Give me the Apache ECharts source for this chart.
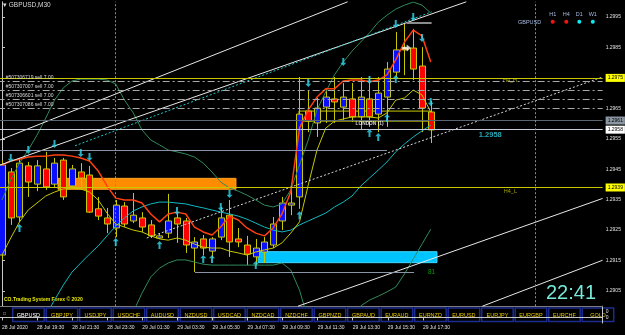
<!DOCTYPE html>
<html><head><meta charset="utf-8">
<script src="https://cdn.jsdelivr.net/npm/echarts@6/dist/echarts.min.js"></script>
<style>html,body{margin:0;padding:0;background:#000;overflow:hidden}#c{width:625px;height:335px}</style>
</head><body><div id="c"></div>
<script>
// ---------------- DATA ----------------
const tickLabels = ['28 Jul 2020','28 Jul 19:30','28 Jul 21:30','28 Jul 23:30','29 Jul 01:30','29 Jul 03:30','29 Jul 05:30','29 Jul 07:30','29 Jul 09:30','29 Jul 11:30','29 Jul 13:30','29 Jul 15:30','29 Jul 17:30'];
const priceTicks = [1.2905,1.2915,1.2925,1.2935,1.2945,1.2955,1.2965,1.2975,1.2985,1.2995];
const opens  = [1.29168,1.29441,1.29293,1.29461,1.29401,1.29451,1.29401,1.29480,1.29395,1.29441,1.29431,1.29320,1.29290,1.29257,1.29329,1.29280,1.29290,1.29267,1.29224,1.29240,1.29290,1.29280,1.29191,1.29221,1.29181,1.29227,1.29299,1.29221,1.29201,1.29162,1.29178,1.29201,1.29280,1.29332,1.29359,1.29641,1.29602,1.29654,1.29681,1.29654,1.29681,1.29622,1.29681,1.29631,1.29687,1.29769,1.29848,1.29848,1.29789,1.29638];
const highs  = [1.29480,1.29454,1.29487,1.29474,1.29480,1.29507,1.29487,1.29487,1.29464,1.29470,1.29461,1.29359,1.29323,1.29349,1.29342,1.29372,1.29309,1.29283,1.29240,1.29369,1.29306,1.29290,1.29227,1.29234,1.29227,1.29326,1.29349,1.29257,1.29231,1.29221,1.29227,1.29293,1.29359,1.29405,1.29753,1.29710,1.29684,1.29717,1.29753,1.29733,1.29733,1.29753,1.29753,1.29753,1.29802,1.29901,1.29930,1.29911,1.29851,1.29674];
const lows   = [1.29152,1.29267,1.29277,1.29359,1.29378,1.29382,1.29388,1.29349,1.29388,1.29382,1.29306,1.29283,1.29240,1.29227,1.29260,1.29273,1.29244,1.29224,1.29221,1.29224,1.29208,1.29175,1.29112,1.29168,1.29158,1.29217,1.29162,1.29194,1.29135,1.29135,1.29142,1.29191,1.29250,1.29299,1.29320,1.29572,1.29556,1.29602,1.29602,1.29612,1.29605,1.29579,1.29589,1.29572,1.29589,1.29753,1.29759,1.29743,1.29572,1.29536];
const closes = [1.29464,1.29290,1.29470,1.29408,1.29461,1.29392,1.29470,1.29359,1.29451,1.29421,1.29309,1.29296,1.29270,1.29332,1.29270,1.29299,1.29260,1.29231,1.29231,1.29280,1.29270,1.29201,1.29211,1.29191,1.29221,1.29290,1.29211,1.29211,1.29171,1.29191,1.29211,1.29270,1.29339,1.29339,1.29631,1.29608,1.29651,1.29687,1.29671,1.29687,1.29622,1.29687,1.29622,1.29700,1.29779,1.29842,1.29842,1.29779,1.29651,1.29579];

const maRed = [1.29464,1.29477,1.29483,1.29490,1.29493,1.29493,1.29497,1.29497,1.29493,1.29487,1.29477,1.29444,1.29395,1.29355,1.29349,1.29349,1.29339,1.29303,1.29277,1.29303,1.29309,1.29303,1.29260,1.29244,1.29234,1.29260,1.29296,1.29283,1.29257,1.29240,1.29231,1.29257,1.29303,1.29375,1.29585,1.29645,1.29687,1.29714,1.29714,1.29740,1.29743,1.29743,1.29737,1.29743,1.29760,1.29809,1.29868,1.29907,1.29888,1.29802];
const maYellow = [1.29168,1.29224,1.29277,1.29316,1.29339,1.29362,1.29375,1.29385,1.29388,1.29385,1.29375,1.29349,1.29306,1.29270,1.29260,1.29250,1.29244,1.29231,1.29221,1.29217,1.29224,1.29217,1.29204,1.29194,1.29191,1.29191,1.29181,1.29175,1.29168,1.29178,1.29185,1.29191,1.29208,1.29240,1.29277,1.29398,1.29513,1.29585,1.29608,1.29615,1.29622,1.29622,1.29622,1.29618,1.29635,1.29677,1.29684,1.29710,1.29694,1.29638];
const maCyan = [null,null,null,null,null,1.28970,1.29020,1.29069,1.29112,1.29142,1.29171,1.29198,1.29231,1.29263,1.29290,1.29313,1.29326,1.29336,1.29342,1.29342,1.29339,1.29336,1.29329,1.29323,1.29316,1.29309,1.29303,1.29296,1.29286,1.29273,1.29260,1.29250,1.29244,1.29250,1.29267,1.29280,1.29293,1.29306,1.29326,1.29342,1.29362,1.29395,1.29421,1.29447,1.29474,1.29507,1.29533,1.29556,1.29576,1.29595];
const bandUpper = [1.29349,1.29415,1.29470,1.29513,1.29562,1.29618,1.29677,1.29717,1.29740,1.29746,1.29746,1.29746,1.29743,1.29730,1.29677,1.29635,1.29579,1.29546,1.29530,1.29513,1.29507,1.29500,1.29490,1.29470,1.29441,1.29408,1.29388,1.29378,1.29365,1.29349,1.29332,1.29326,1.29336,1.29382,1.29464,1.29546,1.29645,1.29704,1.29760,1.29802,1.29838,1.29868,1.29898,1.29933,1.29956,1.29976,1.29989,1.29999,1.29989,1.29963];
const bandLower = [null,null,null,null,null,null,null,null,null,null,null,null,null,null,1.28922,1.28981,1.29043,1.29096,1.29125,1.29142,1.29152,1.29152,1.29145,1.29138,1.29135,1.29135,1.29135,1.29135,1.29135,1.29135,1.29135,1.29135,1.29142,1.29119,1.29053,1.28955,1.28889,1.28873,1.28873,1.28905,1.28961,1.29001,1.29020,1.29033,1.29047,1.29063,1.29106,1.29155,1.29204,1.29253];

const downArrowBars = [1,3,6,9,10,20,25,26,35,39,42,45,47,48,49];
const downArrowPrices = [1.29487,1.29513,1.29533,1.29503,1.29490,1.29313,1.29326,1.29369,1.29733,1.29802,1.29743,1.29927,1.29950,1.29881,1.29671];
const upArrowBars = [2,13,18,23,24,29,34,42,43,44,45];
const upArrowPrices = [1.29257,1.29211,1.29201,1.29155,1.29155,1.29135,1.29299,1.29569,1.29556,1.29618,1.29746];

const orderLevels = [1.29740,1.29710,1.29680,1.29650];
const orderLabels = ['#507306719 sell 7.00','#507307007 sell 7.00','#507306601 sell 7.00','#507307086 sell 7.00'];
const h4High = 1.2975, h4Low = 1.2939, openLevel = 1.2961, bidLevel = 1.2958;
const xLeft = -0.5, xRight = 68.643;
// trend lines: [barIndex, price] endpoints
const whiteLines = [[[-0.5,1.29543],[39.5,1.3000]], [[-0.5,1.29461],[53.06,1.3000]], [[33.83,1.2900],[68.64,1.29354]], [[54.9,1.2900],[68.64,1.29151]]];
const dottedWhite = [[16.54,1.29224],[68.64,1.29753]];
const dottedCyan = [[8.34,1.29527],[49.1,1.29967]];
const graySegs = [[[-0.5,1.29511],[44,1.29511]], [[22.06,1.29112],[47.1,1.29112]]];
const highMark = [[46.25,1.29931],[49.1,1.29931]];
const orangeBox = [[6.4,1.29420],[26.74,1.29384]];
const cyanBox = [[29.26,1.29179],[49.71,1.29143]];
const londonBox = [[33.94,1.29641],[48.9,1.29608]];
const daySeparators = [13, 61];
const symbols = ['GBPUSD','GBPJPY','USDJPY','USDCHF','AUDUSD','NZDUSD','USDCAD','NZDCAD','NZDCHF','GBPNZD','GBPAUD','EURAUD','EURNZD','EURUSD','EURJPY','EURGBP','EURCHF','GOLD'];
const timeframes = ['H1','H4','D1','W1'];
const tfColors = ['#ff1010','#ff1010','#10e8f0','#10e8f0'];

// ---------------- BUILD ----------------
const slots = [];
for (let k = 0; k < 69; k++) {
  const m = 17*60+30 + 30*k, d = 28 + Math.floor(m/1440), hh = Math.floor((m%1440)/60), mm = m%60;
  slots.push(d + ' Jul ' + String(hh).padStart(2,'0') + ':' + String(mm).padStart(2,'0'));
}
const pairs = arr => arr.map((v,i)=> v==null?null:[i,v]).filter(Boolean);
const candleData = opens.map((o,i)=>[i,o,closes[i],lows[i],highs[i]]);
const F = 'Liberation Sans';
const chart = echarts.init(document.getElementById('c'), null, {renderer:'canvas'});

function seg(a, b, color, type, width, label) {
  return [{coord:a, lineStyle:{color, type, width}, label: label || {show:false}}, {coord:b}];
}
function hl(v, color, type, width, label) {
  return seg([xLeft, v], [xRight, v], color, type, width, label);
}
function boxLabel(txt, bg, fg) {
  return {show:true, position:'end', formatter:txt, backgroundColor:bg, color:fg, fontSize:5, fontFamily:F, padding:[2,2,1,2], distance:3};
}

const markLines = [];
whiteLines.forEach(l => markLines.push(seg(l[0], l[1], '#e8e8e8', 'solid', 1)));
markLines.push(seg(dottedWhite[0], dottedWhite[1], '#d8d8d8', [2,2], 1));
markLines.push(seg(dottedCyan[0], dottedCyan[1], '#20c8c8', [2,2], 1));
graySegs.forEach(l => markLines.push(seg(l[0], l[1], '#8a94a8', 'solid', 1)));
markLines.push(seg(highMark[0], highMark[1], '#8c8c8c', 'solid', 2));
orderLevels.forEach((v,i) => markLines.push(hl(v, '#a8a8a8', [7,3,2,3], 1,
  {show:true, position:'insideStartTop', formatter: orderLabels[i], color:'#d8d8d8', fontSize:5, fontFamily:F, distance:[8,1]})));
markLines.push(hl(openLevel, '#5a6470', 'solid', 1, boxLabel(openLevel.toFixed(4), '#8a96a2', '#000')));
markLines.push(hl(bidLevel, '#c4ccdc', 'solid', 1, boxLabel(bidLevel.toFixed(4), '#ffffff', '#000')));
markLines.push(hl(h4High, '#c8c800', 'solid', 1, boxLabel(h4High.toFixed(4), '#ffff00', '#000')));
markLines.push(hl(h4Low, '#c8c800', 'solid', 1, boxLabel(h4Low.toFixed(4), '#ffff00', '#000')));
daySeparators.forEach(i => markLines.push({xAxis:i, lineStyle:{color:'#8c8c8c', type:[2,2], width:1}, label:{show:false}}));

const texts = [
  {value:[58.06,1.29740], label:{formatter:'H4_H', color:'#c8c800', fontSize:5.5}},
  {value:[58.1,1.29376], label:{formatter:'H4_L', color:'#c8c800', fontSize:5.5}},
  {value:[55.8,1.29562], label:{formatter: bidLevel.toFixed(4), color:'#30d0e0', fontSize:7.5, fontWeight:'bold'}},
  {value:[42,1.29599], label:{formatter:'LONDON (1)', color:'#ffffff', fontSize:4.8, fontWeight:'bold'}},
  {value:[49.1,1.29112], label:{formatter:'81', color:'#00c000', fontSize:6.5}}
];

const downPath = 'path://M3,0H6V6H9L4.5,10L0,6H3Z';
const upPath = 'path://M4.5,0L9,4H6V10H3V4H0Z';

const graphics = [
  {type:'text', left:3, top:2, style:{text:'\u25BE GBPUSD,M30', fill:'#d8d8d8', font:'6.5px '+F}},
  {type:'text', left:4, top:297.5, style:{text:'CO.Trading System Forex \u00A9 2020', fill:'#e8e800', font:'bold 5px '+F}},
  {type:'text', left:518, top:19.5, style:{text:'GBPUSD', fill:'#a8bce0', font:'5.5px '+F}},
  {type:'text', left:546, top:283.5, style:{text:'22:41', fill:'#78e8d8', font:'20px '+F}},
  {type:'text', left:3, top:311, style:{text:'\u25A1', fill:'#c0c0c0', font:'5px '+F}}
];
const tfX = [552.7,566.3,579.3,592.8];
timeframes.forEach((t,i) => {
  graphics.push({type:'text', x:tfX[i], y:14, style:{text:t, fill:'#a8bce0', font:'5.5px '+F, textAlign:'center', textVerticalAlign:'middle'}});
  graphics.push({type:'circle', shape:{cx:tfX[i], cy:21.7, r:2}, style:{fill:tfColors[i]}});
});
symbols.forEach((s,i) => {
  const x = 12.7 + i*33.5;
  graphics.push({type:'rect', shape:{x:x, y:308, width:31.5, height:13.5}, style:{fill:'#000', stroke:'#1c2c90', lineWidth:1.5}});
  graphics.push({type:'text', x:x+15.75, y:315, style:{text:s, fill: i===0?'#ffffff':'#e8c800', font:'5.5px '+F, textAlign:'center', textVerticalAlign:'middle'}});
});

const option = {
  backgroundColor:'#000',
  animation:false,
  graphic: graphics,
  grid:[
    {left:-2.375, top:1.8, width:605, height:304.4, containLabel:false, outerBoundsMode:'none'},
    {left:-2.375, top:306.2, width:605, height:16.8, containLabel:false, outerBoundsMode:'none'}
  ],
  xAxis:[
    {gridIndex:0, type:'value', min:xLeft, max:xRight, axisLine:{show:true, onZero:false, lineStyle:{color:'#7c7c7c'}}, axisTick:{show:false}, axisLabel:{show:false}, splitLine:{show:false}},
    {gridIndex:1, type:'category', data:slots, boundaryGap:true,
     axisLine:{show:true, lineStyle:{color:'#c8c8c8'}},
     axisTick:{show:true, alignWithLabel:true, length:3, interval:(i)=> i%4===0 && i/4 < tickLabels.length, lineStyle:{color:'#c8c8c8'}},
     axisLabel:{show:true, interval:(i)=> i%4===0 && i/4 < tickLabels.length, formatter:(v,i)=> tickLabels[i/4] || '', align:'left', color:'#e0e0e0', fontSize:5, fontFamily:F, margin:2},
     splitLine:{show:false}}
  ],
  yAxis:[
    {gridIndex:0, type:'value', position:'right', min:1.2900, max:1.3000, scale:true,
     axisLine:{show:true, lineStyle:{color:'#c8c8c8'}},
     axisTick:{show:true, length:3, customValues:priceTicks, lineStyle:{color:'#c8c8c8'}},
     axisLabel:{show:true, customValues:priceTicks, formatter:(v)=>v.toFixed(4), color:'#e0e0e0', fontSize:5, fontFamily:F, margin:3},
     splitLine:{show:false}},
    {gridIndex:1, type:'value', position:'right', min:-1, max:2,
     axisLine:{show:true, lineStyle:{color:'#c8c8c8'}},
     axisTick:{show:false},
     axisLabel:{show:true, customValues:[0,1], formatter:()=>'0', color:'#e0e0e0', fontSize:5, fontFamily:F, margin:3},
     splitLine:{show:false}}
  ],
  series:[
    {type:'line', name:'bg', data:[], z:1, silent:true,
     markArea:{silent:true, data:[
       [{coord:orangeBox[0], itemStyle:{color:'#ff8c00', borderColor:'#ffa020', borderWidth:1}}, {coord:orangeBox[1]}],
       [{coord:cyanBox[0], itemStyle:{color:'#00c4ff', borderColor:'#40d8ff', borderWidth:1}}, {coord:cyanBox[1]}],
       [{coord:londonBox[0], itemStyle:{color:'rgba(0,0,0,0)', borderColor:'#c8c800', borderWidth:1}}, {coord:londonBox[1]}]
     ]}},
    {type:'custom', name:'candles', z:3, data:candleData, encode:{x:0, y:[1,2,3,4]},
     renderItem:(params, api) => {
       const i = api.value(0), o = api.value(1), c = api.value(2), l = api.value(3), h = api.value(4);
       const po = api.coord([i,o]), pc = api.coord([i,c]), pl = api.coord([i,l]), ph = api.coord([i,h]);
       const cx = Math.round(po[0]) + 0.5;
       const top = Math.min(po[1], pc[1]), bot = Math.max(po[1], pc[1]);
       return {type:'group', children:[
         {type:'line', shape:{x1:cx, y1:ph[1], x2:cx, y2:pl[1]}, style:{stroke:'#c8c800', lineWidth:1}},
         {type:'rect', shape:{x:cx-3, y:top, width:6, height:Math.max(bot-top,1.5)}, style:{fill: c>=o ? '#0a10ff' : '#ff0000', stroke:'#c8c800', lineWidth:1}}
       ]};
     }},
    {type:'line', name:'bandUpper', data:pairs(bandUpper), z:4, showSymbol:false, silent:true, lineStyle:{color:'#2f8a5a', width:1}},
    {type:'line', name:'bandLower', data:pairs(bandLower), z:4, showSymbol:false, silent:true, lineStyle:{color:'#2f8a5a', width:1}},
    {type:'line', name:'maCyan', data:pairs(maCyan), z:4, showSymbol:false, silent:true, lineStyle:{color:'#10b8c0', width:1}},
    {type:'line', name:'maYellow', data:pairs(maYellow), z:4, showSymbol:false, silent:true, lineStyle:{color:'#c8c800', width:1}},
    {type:'line', name:'maRed', data:pairs(maRed), z:4, showSymbol:false, silent:true, lineStyle:{color:'#ff4010', width:1.5}},
    {type:'line', name:'objects', data:[], z:5, silent:true,
     markLine:{silent:true, symbol:'none', animation:false, data:markLines}},
    {type:'scatter', name:'down', z:6, silent:true, symbol:downPath, symbolSize:[6,8], itemStyle:{color:'#30d8f0'},
     data: downArrowBars.map((b,k)=>[b, downArrowPrices[k]])},
    {type:'scatter', name:'up', z:6, silent:true, symbol:upPath, symbolSize:[6,8], itemStyle:{color:'#30d8f0'},
     data: upArrowBars.map((b,k)=>[b, upArrowPrices[k]])},
    {type:'scatter', name:'trade', z:6, silent:true, symbol:'path://M0,3H5V0L10,5L5,10V7H0Z', symbolSize:[9,7], itemStyle:{color:'#ffffff'},
     data:[[46.25,1.29848]]},
    {type:'scatter', name:'texts', z:7, silent:true, symbolSize:1, itemStyle:{color:'rgba(0,0,0,0)'},
     label:{show:true, position:'inside', fontFamily:F}, data:texts}
  ]
};
chart.setOption(option);
</script></body></html>
